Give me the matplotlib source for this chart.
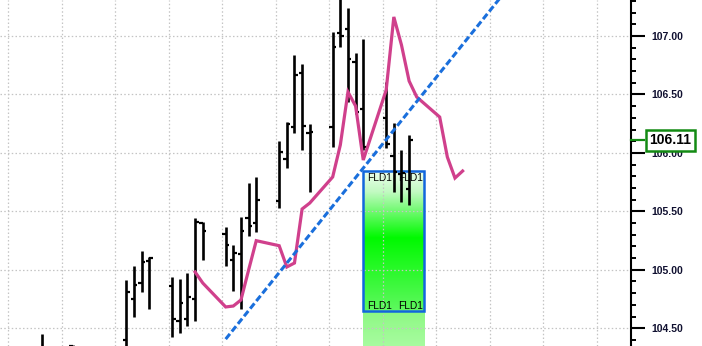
import numpy as np
import matplotlib
matplotlib.use("Agg")
import matplotlib.pyplot as plt
from matplotlib.patches import Rectangle
import matplotlib.transforms as mtransforms

# ---------------- data (day numbers, prices) ----------------
bar_days = [4.44, 8.44,
            15.44, 16.44, 17.44, 18.44,
            21.44, 22.44, 23.44, 24.44, 25.44,
            28.44, 29.44, 30.44, 31.44, 32.44,
            35.44, 36.44, 37.44, 38.44, 39.44,
            42.44, 43.44, 44.44, 45.44, 46.44,
            49.44, 50.44, 51.44, 52.44]
opens = [104.20, 104.35,
         104.40, 104.750, 104.890, 105.078,
         104.861, 104.565, 104.582, 104.748, 105.403,
         105.306, 105.084, 105.135, 105.446, 105.398,
         105.586, 105.948, 106.224, 106.681, 106.168,
         106.224, 107.028, 107.060, 106.775, 106.373,
         106.301, 105.976, 105.820, 105.689]
highs = [104.451, 104.357,
         104.913, 105.033, 105.161, 105.107,
         104.936, 104.919, 104.970, 105.441, 105.411,
         105.369, 105.212, 105.450, 105.745, 105.794,
         106.102, 106.262, 106.837, 106.760, 106.245,
         107.032, 107.350, 107.237, 106.852, 106.972,
         106.609, 106.253, 106.025, 106.153]
lows = [104.00, 104.00,
        104.30, 104.599, 104.813, 104.667,
        104.428, 104.462, 104.522, 104.565, 105.084,
        105.035, 104.821, 104.667, 105.289, 105.326,
        105.531, 105.873, 106.174, 106.025, 105.668,
        106.053, 106.909, 106.438, 106.333, 106.025,
        106.039, 105.668, 105.580, 105.554]
closes = [104.30, 104.20,
          104.813, 104.873, 105.069, 105.104,
          104.577, 104.719, 104.770, 105.411, 105.334,
          105.215, 105.146, 105.334, 105.375, 105.597,
          106.010, 106.245, 106.666, 106.230, 106.181,
          106.909, 107.003, 106.803, 106.350, 106.050,
          106.080, 105.839, 105.831, 106.110]

fld_days = [24.44, 25.44, 28.44, 29.44, 30.44, 31.44, 32.44,
            35.44, 36.44, 37.44, 38.44, 39.44,
            42.44, 43.44, 44.44, 45.44, 46.44,
            49.44, 50.44, 51.44, 52.44, 53.44,
            56.44, 57.44, 58.44, 59.44]
fld_vals = [104.981, 104.887, 104.682, 104.690, 104.742, 104.998, 105.249,
            105.206, 105.024, 105.058, 105.520, 105.571,
            105.794, 106.068, 106.521, 106.401, 105.939,
            106.538, 107.163, 106.923, 106.615, 106.478,
            106.307, 105.965, 105.785, 105.845]

trend_days = [28.44, 66.0]
trend_vals = [104.407, 107.460]

box_days = [46.4, 54.4]
box_prices = [104.648, 105.848]
zone_bottom = 104.0
last_price = 106.11

y_major = [104.5, 105.0, 105.5, 106.0, 106.5, 107.0]
grid_days = list(range(0, 78, 7))

# ---------------- figure ----------------
plt.rcParams['font.family'] = ['Liberation Sans', 'DejaVu Sans']
fig = plt.figure(figsize=(7.02, 3.46), dpi=100)
ax = fig.add_axes([0, 0, 631 / 702, 1])

def grad(stops_t, stops_c, n=256):
    t = np.linspace(0, 1, n)
    c = np.array(stops_c, dtype=float) / 255.0
    arr = np.stack([np.interp(t, stops_t, c[:, i]) for i in range(3)], axis=1)
    return arr[:, None, :]

box_img = grad([0, 0.15, 0.48, 1.0],
               [(238, 255, 238), (195, 250, 195), (0, 250, 0), (95, 248, 95)])
ax.imshow(box_img, extent=[box_days[0], box_days[1], box_prices[0], box_prices[1]],
          origin='upper', aspect='auto', zorder=1, interpolation='bilinear')
zone_img = grad([0, 1.0], [(140, 248, 130), (200, 255, 195)])
ax.imshow(zone_img, extent=[box_days[0], box_days[1], zone_bottom, box_prices[0]],
          origin='upper', aspect='auto', zorder=1, interpolation='bilinear')
ax.add_patch(Rectangle((box_days[0], box_prices[0]), box_days[1] - box_days[0],
                       box_prices[1] - box_prices[0], fill=False,
                       ec='#1266dd', lw=1.8, zorder=4))

for d in grid_days:
    ax.axvline(d, color='#c4c4c4', lw=0.9, ls=(0, (1.2, 1.8)), zorder=2)
for p in y_major:
    ax.axhline(p, color='#c4c4c4', lw=0.9, ls=(0, (1.2, 1.8)), zorder=2)

for xo in (0.53, 4.55):
    ax.text(box_days[0] + xo, box_prices[1] - 0.088, "FLD1", fontsize=7.3,
            va='baseline', ha='left', color='black', zorder=3)
    ax.text(box_days[0] + xo, box_prices[0] + 0.015, "FLD1", fontsize=7.3,
            va='baseline', ha='left', color='black', zorder=3)

bd = np.array(bar_days)
ax.vlines(bd, lows, highs, color='black', lw=1.9, zorder=5)
ax.hlines(opens, bd - 0.45, bd, color='black', lw=1.6, zorder=5)
ax.hlines(closes, bd, bd + 0.45, color='black', lw=1.6, zorder=5)

ax.plot(fld_days, fld_vals, color='#d0408c', lw=2.3, zorder=6,
        solid_joinstyle='miter')

ax.plot(trend_days, trend_vals, color='#1a6fdc', lw=2.2, dashes=(2.2, 1.0),
        zorder=7)

ax.set_xlim(-1.086, 81.47)
ax.set_ylim(104.348, 107.308)

for s in ('top', 'left', 'bottom'):
    ax.spines[s].set_visible(False)
ax.spines['right'].set_linewidth(1.5)
ax.spines['right'].set_color('black')
ax.set_xticks([])
ax.yaxis.tick_right()
ax.set_yticks(y_major)
ax.set_yticklabels([f"{v:.2f}" for v in y_major], fontweight='bold',
                   fontsize=7.5, color='#101030')
minor = [round(104.4 + 0.1 * i, 1) for i in range(30)]
minor = [m for m in minor if all(abs(m - M) > 1e-6 for M in y_major)]
ax.set_yticks(minor, minor=True)
ax.tick_params(axis='y', which='major', length=10, width=1.5, pad=5,
               direction='out', color='black')
ax.tick_params(axis='y', which='minor', length=3.6, width=1.4,
               direction='out', color='black')

trans = mtransforms.blended_transform_factory(ax.transAxes, ax.transData)
ax.plot([1.0, 1.021], [last_price, last_price], transform=trans,
        color='#138a13', lw=1.6, clip_on=False, zorder=9)
ax.text(1.062, last_price, f"{last_price:.2f}", transform=trans, ha='center',
        va='center', fontsize=10, fontweight='bold', color='black',
        bbox=dict(boxstyle='square,pad=0.25', fc='white', ec='#138a13', lw=1.8),
        zorder=10, clip_on=False)

fig.savefig("out.png", dpi=100)
